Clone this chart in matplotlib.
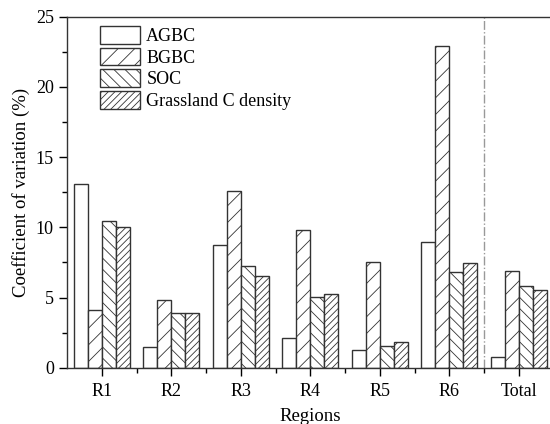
import matplotlib
matplotlib.use("Agg")
import matplotlib.pyplot as plt
import numpy as np
from matplotlib.ticker import MultipleLocator, FixedLocator

plt.rcParams['font.family'] = ['Liberation Serif', 'DejaVu Serif']
plt.rcParams['hatch.linewidth'] = 0.6
plt.rcParams['hatch.color'] = '#555555'

regions = ["R1", "R2", "R3", "R4", "R5", "R6", "Total"]
series_names = ["AGBC", "BGBC", "SOC", "Grassland C density"]
agbc = [13.1, 1.45, 8.72, 2.12, 1.28, 8.95, 0.78]
bgbc = [4.1, 4.8, 12.57, 9.78, 7.55, 22.9, 6.89]
soc = [10.45, 3.87, 7.22, 5.04, 1.55, 6.82, 5.8]
gcd = [10.0, 3.87, 6.55, 5.23, 1.81, 7.48, 5.53]

fig = plt.figure(figsize=(5.5, 4.24), dpi=100)
ax = fig.add_axes([67/550, 1-367.7/424, 486.5/550, 351/424])

x = np.arange(len(regions))
w = 0.2
hatches = ['', '//', '\\\\\\', '/////']
data = [agbc, bgbc, soc, gcd]
for i, (vals, name, h) in enumerate(zip(data, series_names, hatches)):
    ax.bar(x + (i - 1.5) * w, vals, w, facecolor='white', edgecolor='#333333',
           linewidth=1.0, hatch=h, label=name)

ax.axvline(5.5, color='#999999', linestyle='-.', linewidth=1.0)

ax.set_xlim(-0.5, 6.5)
ax.set_ylim(0, 25)
ax.set_xticks(x)
ax.set_xticklabels(regions)
ax.xaxis.set_minor_locator(FixedLocator(np.arange(0.5, 6.5, 1)))
ax.yaxis.set_major_locator(MultipleLocator(5))
ax.yaxis.set_minor_locator(MultipleLocator(2.5))
ax.tick_params(axis='both', which='major', direction='out', length=6, width=1, labelsize=13)
ax.tick_params(axis='both', which='minor', direction='out', length=3.5, width=1)
ax.tick_params(axis='x', pad=5)
for s in ax.spines.values():
    s.set_color('#333333')
    s.set_linewidth(1.0)

ax.set_ylabel("Coefficient of variation (%)", fontsize=13.5)
ax.set_xlabel("Regions", fontsize=13.5, labelpad=6)

ax.legend(loc='upper left', bbox_to_anchor=(0.046, 1.005), frameon=False,
          fontsize=13, handlelength=2.2, handleheight=1.15, labelspacing=0.15,
          handletextpad=0.35, borderaxespad=0.2)

fig.savefig("out.png", dpi=100)
